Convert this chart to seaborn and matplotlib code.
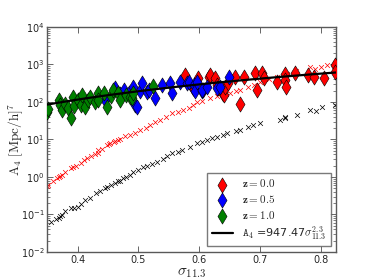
import numpy as np
import pandas as pd
import matplotlib
matplotlib.use("Agg")
import matplotlib.pyplot as plt
import seaborn as sns

# ---------------- data (sigma_11.3, log10 A4) ----------------
z00_sigma = [0.577, 0.590, 0.592, 0.598, 0.607, 0.616, 0.618, 0.626, 0.630, 0.631,
             0.639, 0.641, 0.643, 0.648, 0.659, 0.667, 0.674, 0.692, 0.695, 0.703,
             0.707, 0.728, 0.741, 0.741, 0.743, 0.757, 0.780, 0.789, 0.805, 0.823,
             0.823]
z00_logA = [2.72, 2.37, 2.35, 2.64, 2.32, 2.67, 2.72, 2.64, 2.45, 2.37,
            2.22, 2.19, 2.40, 2.51, 2.67, 1.95, 2.67, 2.77, 2.32, 2.77,
            2.64, 2.53, 2.75, 2.59, 2.40, 2.77, 2.72, 2.67, 2.64, 2.99,
            2.80]

z05_sigma = [0.446, 0.462, 0.470, 0.476, 0.485, 0.492, 0.495, 0.498, 0.503, 0.506,
             0.514, 0.517, 0.528, 0.539, 0.552, 0.555, 0.569, 0.580, 0.583, 0.591,
             0.593, 0.597, 0.604, 0.605, 0.613, 0.630, 0.634, 0.649]
z05_logA = [2.05, 2.37, 2.20, 2.32, 2.25, 2.41, 1.92, 1.87, 2.28, 2.50,
            2.27, 2.32, 2.10, 2.45, 2.50, 2.23, 2.54, 2.50, 2.52, 2.45,
            2.28, 2.54, 2.28, 2.32, 2.41, 2.36, 2.41, 2.66]

z10_sigma = [0.350, 0.352, 0.369, 0.372, 0.375, 0.379, 0.384, 0.389, 0.392, 0.395,
             0.400, 0.405, 0.408, 0.413, 0.418, 0.421, 0.428, 0.433, 0.434, 0.443,
             0.449, 0.455, 0.459, 0.467, 0.470, 0.479, 0.487, 0.490, 0.492, 0.525]
z10_logA = [1.73, 1.80, 2.05, 1.92, 1.79, 1.95, 1.84, 1.57, 2.13, 1.90,
            2.05, 1.93, 2.19, 1.87, 2.05, 2.13, 2.00, 2.24, 2.05, 2.24,
            1.87, 2.15, 2.32, 2.24, 2.05, 2.19, 2.13, 2.10, 2.24, 2.43]

redx_sigma = [0.350, 0.352, 0.360, 0.367, 0.370, 0.372, 0.375, 0.380, 0.389, 0.393,
              0.398, 0.405, 0.410, 0.416, 0.422, 0.428, 0.433, 0.434, 0.440, 0.449,
              0.452, 0.454, 0.460, 0.462, 0.466, 0.470, 0.478, 0.487, 0.495, 0.503,
              0.512, 0.520, 0.528, 0.535, 0.545, 0.556, 0.565, 0.574, 0.583, 0.590,
              0.597, 0.605, 0.618, 0.630, 0.645, 0.651, 0.660, 0.667, 0.680, 0.690,
              0.700, 0.715, 0.728, 0.745, 0.760, 0.782, 0.790, 0.800, 0.810, 0.823]
redx_logA = [-0.25, -0.21, -0.12, -0.03, 0.0, 0.02, 0.05, 0.12, 0.24, 0.26,
             0.30, 0.37, 0.45, 0.50, 0.56, 0.62, 0.64, 0.72, 0.75, 0.85,
             0.88, 0.90, 0.93, 0.97, 0.99, 1.02, 1.08, 1.12, 1.18, 1.25,
             1.30, 1.38, 1.47, 1.52, 1.60, 1.71, 1.74, 1.79, 1.85, 1.92,
             2.00, 2.02, 2.11, 2.16, 2.20, 2.24, 2.28, 2.32, 2.40, 2.45,
             2.53, 2.60, 2.67, 2.75, 2.82, 2.93, 2.88, 2.93, 2.98, 3.04]

blkx_sigma = [0.356, 0.365, 0.369, 0.372, 0.375, 0.380, 0.389, 0.395, 0.400, 0.405,
              0.413, 0.420, 0.430, 0.437, 0.445, 0.449, 0.455, 0.462, 0.466, 0.470,
              0.475, 0.480, 0.486, 0.492, 0.500, 0.508, 0.515, 0.523, 0.531, 0.540,
              0.548, 0.556, 0.565, 0.572, 0.585, 0.597, 0.605, 0.613, 0.622, 0.630,
              0.640, 0.646, 0.660, 0.667, 0.680, 0.689, 0.700, 0.733, 0.741, 0.741,
              0.761, 0.782, 0.793, 0.803, 0.823]
blkx_logA = [-1.20, -1.12, -1.09, -1.05, -1.01, -0.92, -0.83, -0.82, -0.80, -0.72,
             -0.61, -0.55, -0.43, -0.38, -0.30, -0.27, -0.22, -0.16, -0.12, -0.10,
             -0.03, 0.00, 0.05, 0.13, 0.18, 0.27, 0.30, 0.35, 0.40, 0.47,
             0.55, 0.64, 0.66, 0.72, 0.80, 0.91, 0.94, 0.99, 1.03, 1.07,
             1.12, 1.17, 1.22, 1.25, 1.33, 1.39, 1.44, 1.52, 1.60, 1.56,
             1.65, 1.79, 1.75, 1.87, 1.92]

fit_amp = 947.47
fit_exp = 2.3

# ---------------- figure ----------------
sns.set_style("ticks")
plt.rcParams["font.family"] = ["DejaVu Sans"]
fig = plt.figure(figsize=(3.74, 2.80), dpi=100)
ax = fig.add_axes([0.126, 0.10, 0.772, 0.804])

def df(s, l):
    return pd.DataFrame({"sigma": s, "A4": 10 ** np.asarray(l)})

sns.scatterplot(data=df(blkx_sigma, blkx_logA), x="sigma", y="A4", marker="x",
                color="black", s=12, linewidth=0.5, ax=ax, legend=False, zorder=2)
sns.scatterplot(data=df(redx_sigma, redx_logA), x="sigma", y="A4", marker="x",
                color="red", s=12, linewidth=0.5, ax=ax, legend=False, zorder=2)

handles = []
for s, l, c, lab in [(z00_sigma, z00_logA, "red", r"$\mathbf{z}=0.0$"),
                     (z05_sigma, z05_logA, "blue", r"$\mathbf{z}=0.5$"),
                     (z10_sigma, z10_logA, "green", r"$\mathbf{z}=1.0$")]:
    sns.scatterplot(data=df(s, l), x="sigma", y="A4", marker="d", color=c,
                    s=60, edgecolor="black", linewidth=0.4, ax=ax, zorder=3)
    handles.append(ax.collections[-1])
    handles[-1].set_label(lab)

xfit = np.linspace(0.35, 0.825, 100)
fit_df = pd.DataFrame({"sigma": xfit, "A4": fit_amp * xfit ** fit_exp})
sns.lineplot(data=fit_df, x="sigma", y="A4", color="black", lw=1.6, ax=ax, zorder=4)
line = ax.lines[-1]
line.set_label(r"$\mathtt{A_4}$ =947.47$\sigma_{11.3}^{2.3}$")
handles.append(line)

ax.set_yscale("log")
ax.set_xlim(0.35, 0.825)
ax.set_ylim(1e-2, 1e4)
ax.set_xticks([0.4, 0.5, 0.6, 0.7, 0.8])
ax.tick_params(which="both", direction="in", top=True, right=True, labelsize=7,
               color="0.3", pad=2)
ax.tick_params(which="major", length=4, width=0.6)
ax.tick_params(which="minor", length=2, width=0.5)
for sp in ax.spines.values():
    sp.set_color("0.35")
    sp.set_linewidth(1.0)

ax.set_xlabel(r"$\sigma_{11.3}$", fontsize=11, math_fontfamily="cm", labelpad=0)
ax.set_ylabel(r"$\mathrm{A_4}\ [\mathrm{Mpc/h}]^7$", fontsize=9.5,
              math_fontfamily="cm")
ax.yaxis.set_label_coords(-0.075, 0.5)

leg = ax.legend(handles=handles, loc="lower right", fancybox=False,
                prop={"size": 8, "math_fontfamily": "cm"}, scatterpoints=1,
                handlelength=1.9, handletextpad=0.8, borderpad=0.4,
                labelspacing=0.33, borderaxespad=0.0,
                bbox_to_anchor=(0.983, 0.025))
leg.get_frame().set_edgecolor("0.35")
leg.get_frame().set_linewidth(1.0)

fig.savefig("out.png", dpi=100)
